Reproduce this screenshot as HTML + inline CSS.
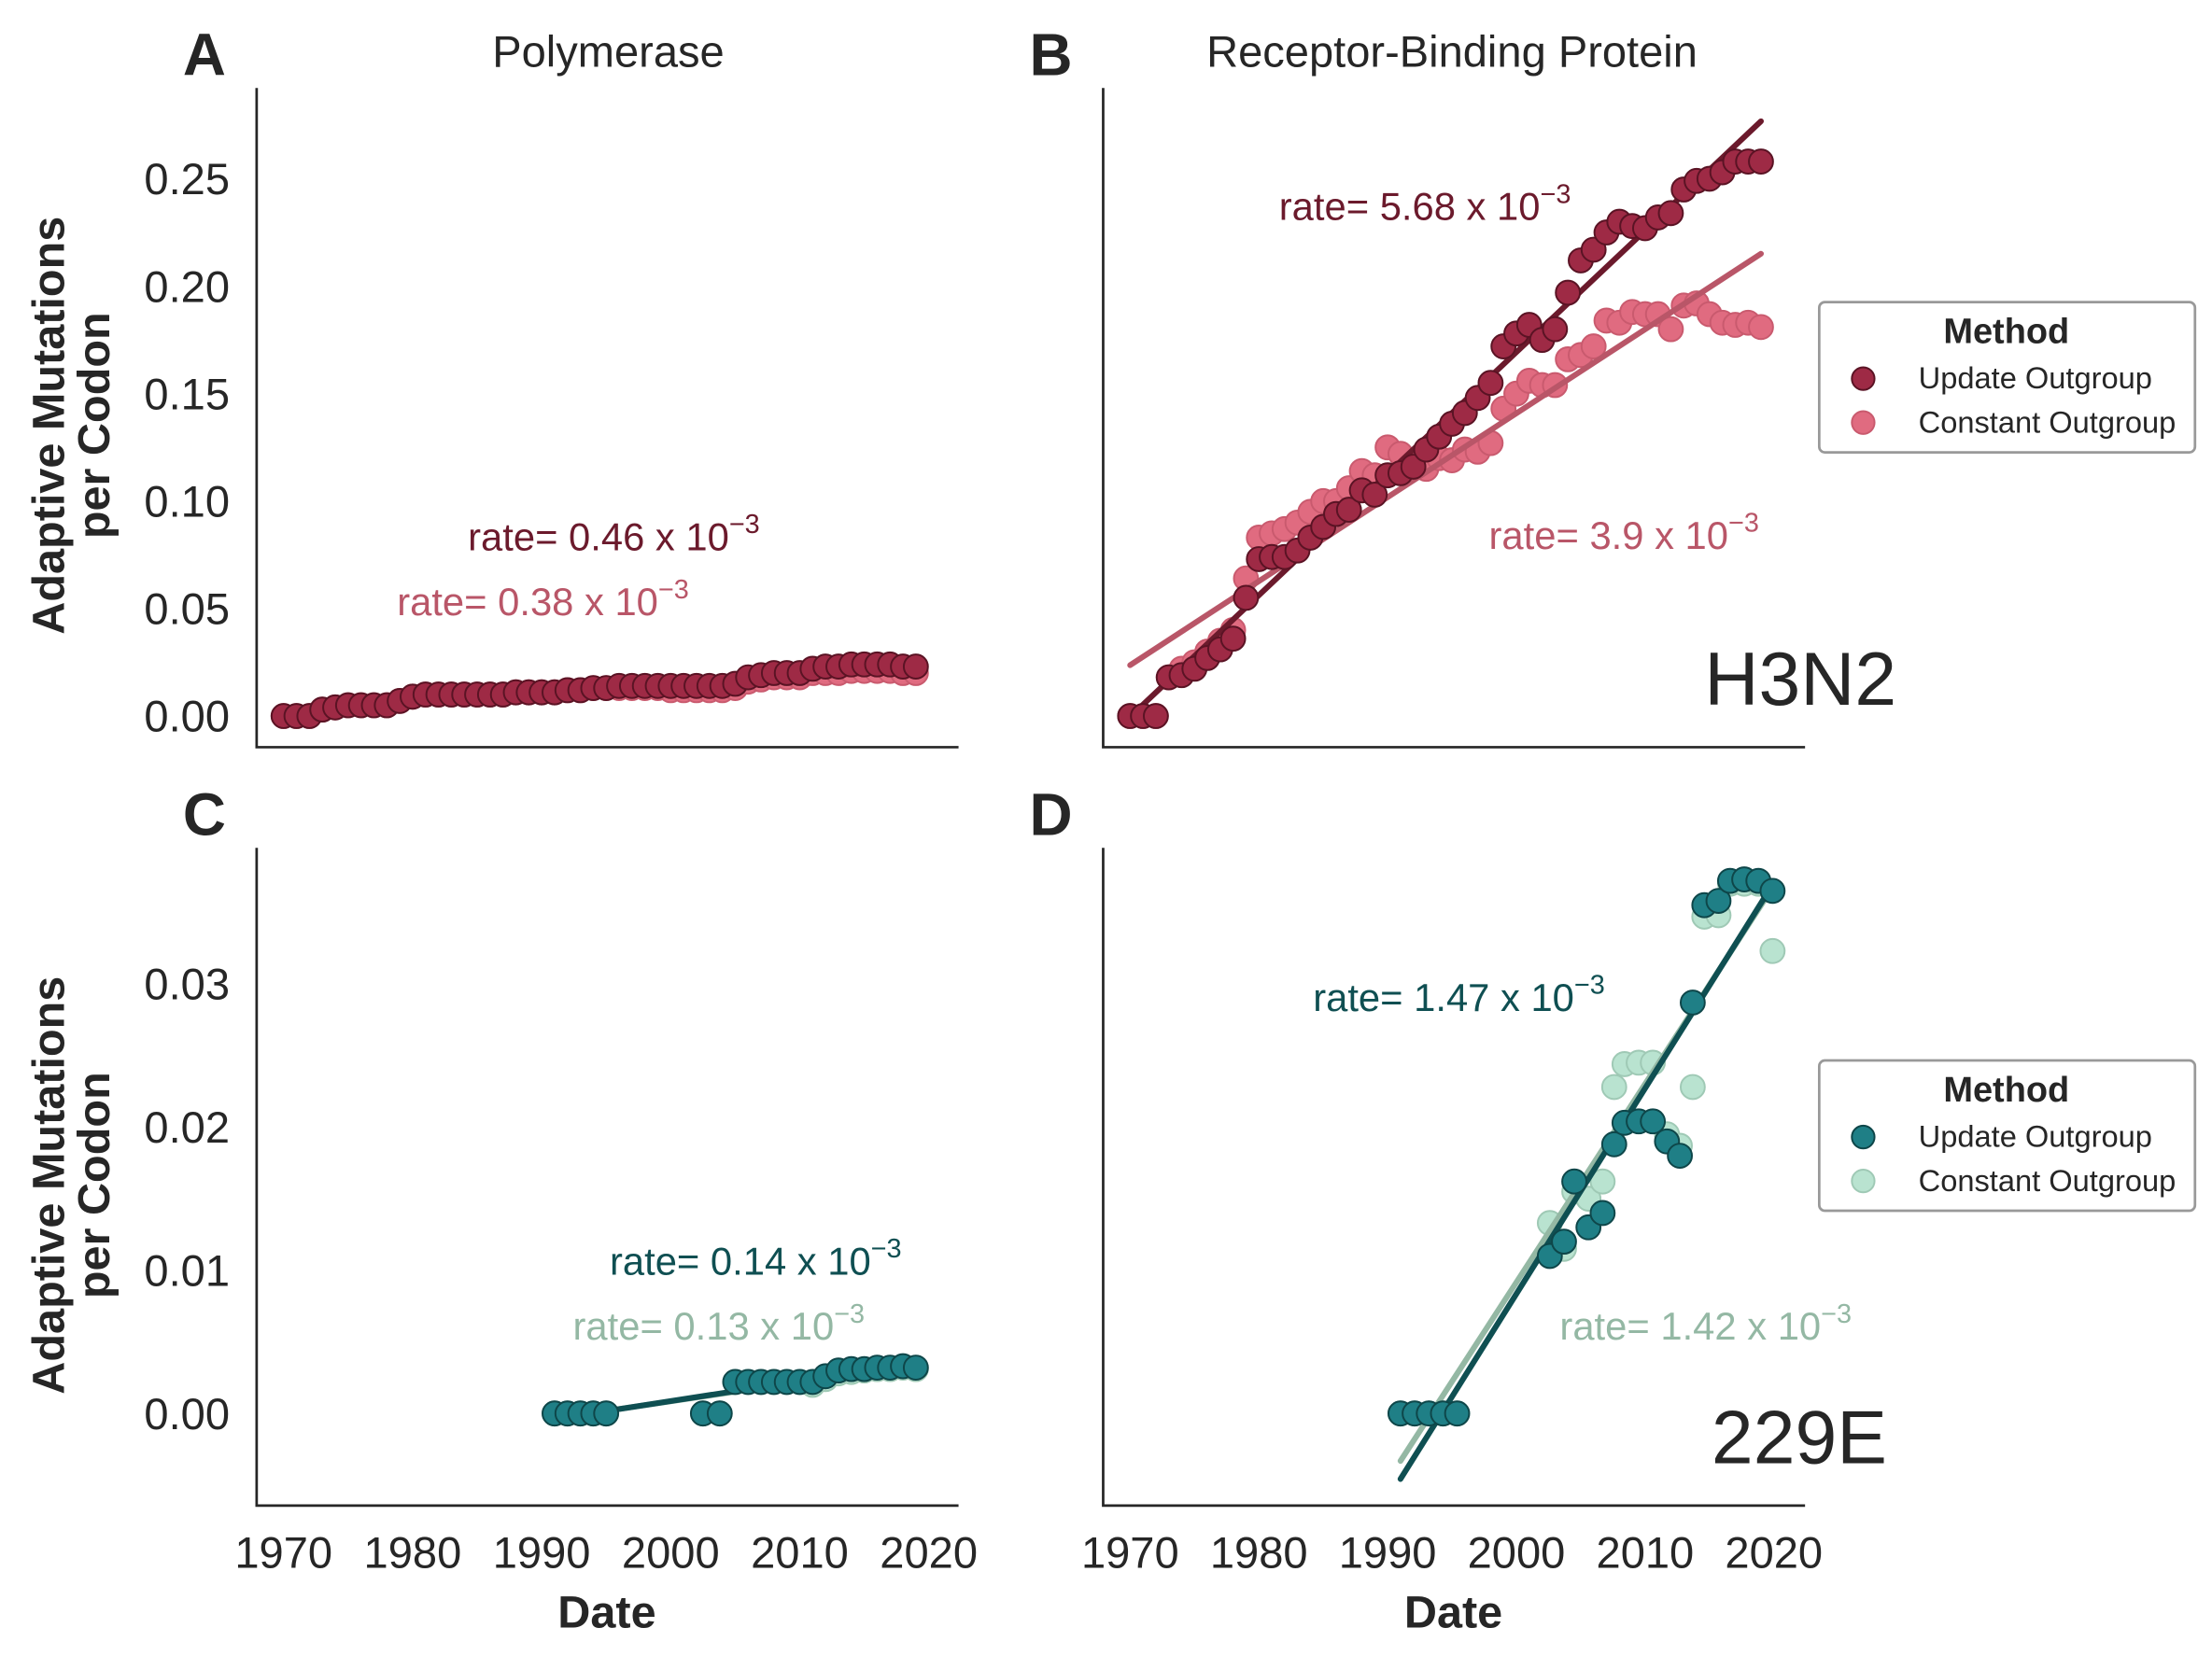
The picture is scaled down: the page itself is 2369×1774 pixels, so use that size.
<!DOCTYPE html>
<html><head><meta charset="utf-8"><style>
html,body{margin:0;padding:0;background:#fff}
svg{display:block;font-family:"Liberation Sans",Arial,sans-serif}
</style></head><body>
<svg id="fig" width="2369" height="1774" viewBox="0 0 1560 1168" xmlns="http://www.w3.org/2000/svg">
<rect width="1560" height="1168" fill="#fff"/>
<g id="layer"></g>
</svg>
<script>
// ---------- data ----------
const years50 = [];
for (let y = 1970; y <= 2019; y++) years50.push(y);
const h3PolUpdate = [0,0,0,0.003,0.004,0.005,0.005,0.005,0.005,0.007,0.009,0.01,0.01,0.01,0.01,0.01,0.01,0.01,0.011,0.011,0.011,0.011,0.012,0.012,0.013,0.013,0.014,0.014,0.014,0.014,0.014,0.014,0.014,0.014,0.014,0.015,0.018,0.019,0.02,0.02,0.02,0.022,0.023,0.023,0.024,0.024,0.024,0.024,0.023,0.023];
const h3PolConst  = [0,0,0,0.003,0.004,0.005,0.005,0.005,0.005,0.007,0.009,0.01,0.01,0.01,0.01,0.01,0.01,0.01,0.011,0.011,0.011,0.011,0.012,0.012,0.013,0.013,0.013,0.013,0.013,0.013,0.012,0.012,0.012,0.012,0.012,0.013,0.016,0.017,0.018,0.018,0.018,0.02,0.02,0.02,0.021,0.021,0.021,0.021,0.02,0.02];
const h3RbpUpdate = [0,0,0,0.018,0.019,0.022,0.027,0.031,0.036,0.055,0.073,0.074,0.074,0.077,0.083,0.088,0.094,0.096,0.105,0.103,0.112,0.113,0.116,0.124,0.130,0.136,0.141,0.148,0.155,0.172,0.178,0.182,0.175,0.180,0.197,0.212,0.217,0.225,0.230,0.228,0.227,0.232,0.234,0.245,0.249,0.250,0.253,0.258,0.258,0.258];
const h3RbpConst  = [0,0,0,0.018,0.022,0.025,0.030,0.035,0.040,0.064,0.083,0.085,0.087,0.090,0.095,0.100,0.100,0.106,0.114,0.112,0.125,0.122,0.117,0.115,0.120,0.119,0.124,0.123,0.127,0.143,0.150,0.156,0.154,0.154,0.166,0.168,0.172,0.184,0.183,0.188,0.187,0.187,0.180,0.191,0.192,0.187,0.183,0.182,0.183,0.181];
const e229PolYears = [1991,1992,1993,1994,1995,2002.5,2003.8,2005,2006,2007,2008,2009,2010,2011,2012,2013,2014,2015,2016,2017,2018,2019];
const e229PolUpdate = [0,0,0,0,0,0,0,0.0022,0.0022,0.0022,0.0022,0.0022,0.0022,0.0022,0.0026,0.003,0.0031,0.0031,0.0032,0.0032,0.0033,0.0032];
const e229PolConst  = [0,0,0,0,0,0,0,0.0022,0.0022,0.0022,0.0022,0.0022,0.0022,0.002,0.0024,0.0028,0.0029,0.003,0.0031,0.0031,0.0032,0.0031];
const e229RbpYears = [1991,1992.1,1993.2,1994.3,1995.4,2002.6,2003.7,2004.5,2005.6,2006.7,2007.6,2008.4,2009.5,2010.6,2011.7,2012.7,2013.7,2014.6,2015.7,2016.6,2017.7,2018.8,2019.9];
const e229RbpUpdate = [0,0,0,0,0,0.011,0.012,0.0162,0.013,0.014,0.0188,0.0203,0.0204,0.0204,0.019,0.018,0.0287,0.0355,0.0358,0.0372,0.0373,0.0372,0.0365];
const e229RbpConst  = [0,0,0,0,0,0.0133,0.0115,0.0155,0.015,0.0162,0.0228,0.0244,0.0245,0.0245,0.0195,0.0187,0.0228,0.0347,0.0348,0.037,0.037,0.037,0.0323];
const xTicks = [1970,1980,1990,2000,2010,2020];
const yTicksTop = [0,0.05,0.10,0.15,0.20,0.25];
const yTicksBot = [0,0.01,0.02,0.03];

// ---------- helpers ----------
const NS = "http://www.w3.org/2000/svg";
const layer = document.getElementById('layer');
function mk(tag, attrs, parent) {
  const e = document.createElementNS(NS, tag);
  for (const k in attrs) e.setAttribute(k, attrs[k]);
  (parent || layer).appendChild(e);
  return e;
}
function fit(xs, ys) {
  const n = xs.length; let mx = 0, my = 0;
  for (let i = 0; i < n; i++) { mx += xs[i]; my += ys[i]; }
  mx /= n; my /= n;
  let sxy = 0, sxx = 0;
  for (let i = 0; i < n; i++) { sxy += (xs[i]-mx)*(ys[i]-my); sxx += (xs[i]-mx)**2; }
  const b = sxy / sxx; return { b, a: my - b*mx };
}

const PAL = {
  h3: { uf:'#9e2a45', ue:'#5a1324', ul:'#6b1a2c', cf:'#e06b80', ce:'#c95a6e', cl:'#b95668' },
  e:  { uf:'#1f7f86', ue:'#0e4649', ul:'#0f4f52', cf:'#b9e3d0', ce:'#9fc9b5', cl:'#94b8a4' }
};

function panel(o) {
  const g = mk('g', {});
  
  
  const X = v => o.x0 + (v - 1970) * o.xs;
  const Y = v => o.y0 - v * o.ys;
  const ax = mk('path', { d:`M${o.left},${o.top}V${o.bottom}H${o.right}`, fill:'none', stroke:'#262626', 'stroke-width':1.8 }, g);
  
  
  if (o.yTicks) {
    o.yTicks.forEach(t => {
      const tx = mk('text', { x: o.left - 19, y: Y(t) + 11, 'text-anchor':'end', 'font-size':31, fill:'#262626' }, g);
      tx.textContent = t.toFixed(2);
      
      
    });
  }
  if (o.xLabels) {
    xTicks.forEach(t => {
      const tx = mk('text', { x: X(t), y: 1106, 'text-anchor':'middle', 'font-size':31, fill:'#262626' }, g);
      tx.textContent = t;
      
      
    });
  }
  const p = PAL[o.pal];
  const r = 8.5;
  function dots(ys, fill, edge, nm) {
    ys.forEach((v, i) => {
      const c = mk('circle', { cx: X(o.years[i]), cy: Y(v), r: r, fill: fill, stroke: edge, 'stroke-width': 1.3 }, g);
      
      
    });
  }
  function line(ys, col, nm) {
    const f = fit(o.years, ys);
    const x1 = o.years[0], x2 = o.years[o.years.length - 1];
    const l = mk('line', { x1: X(x1), y1: Y(f.a + f.b*x1), x2: X(x2), y2: Y(f.a + f.b*x2), stroke: col, 'stroke-width': 4, 'stroke-linecap':'round' }, g);
    
    
  }
  dots(o.c, p.cf, p.ce, 'constant-outgroup-point');
  line(o.c, p.cl, 'constant-outgroup-fit-line');
  line(o.u, p.ul, 'update-outgroup-fit-line');
  dots(o.u, p.uf, p.ue, 'update-outgroup-point');
  o.ann.forEach(a => {
    const t = mk('text', { x: a.x, y: a.y, 'font-size':27.5, fill: a.col }, g);
    t.innerHTML = `rate= ${a.v} x 10<tspan dy="-12" font-size="19">−3</tspan>`;
    
    
  });
  const L = mk('text', { x: o.left - 52, y: o.top - 9, 'font-size':42, 'font-weight':'bold', fill:'#262626' }, g);
  L.textContent = o.letter;
  
  
}

panel({ name:'panel-a-polymerase-h3n2', letter:'A', left:181, right:676, top:62, bottom:527, x0:200, xs:9.1, y0:505, ys:1516,
  years: years50, u: h3PolUpdate, c: h3PolConst, pal:'h3', yTicks: yTicksTop,
  ann:[{x:330,y:388,v:'0.46',col:'#6b1a2c',nm:'update-rate-annotation'},{x:280,y:434,v:'0.38',col:'#b95668',nm:'constant-rate-annotation'}] });
panel({ name:'panel-b-rbp-h3n2', letter:'B', left:778, right:1273, top:62, bottom:527, x0:797, xs:9.08, y0:505, ys:1516,
  years: years50, u: h3RbpUpdate, c: h3RbpConst, pal:'h3',
  ann:[{x:902,y:155,v:'5.68',col:'#6b1a2c',nm:'update-rate-annotation'},{x:1050,y:387,v:'3.9',col:'#b95668',nm:'constant-rate-annotation'}] });
panel({ name:'panel-c-polymerase-229e', letter:'C', left:181, right:676, top:598, bottom:1062, x0:200, xs:9.1, y0:997, ys:10100,
  years: e229PolYears, u: e229PolUpdate, c: e229PolConst, pal:'e', yTicks: yTicksBot, xLabels:true,
  ann:[{x:430,y:899,v:'0.14',col:'#0f4f52',nm:'update-rate-annotation'},{x:404,y:945,v:'0.13',col:'#94b8a4',nm:'constant-rate-annotation'}] });
panel({ name:'panel-d-rbp-229e', letter:'D', left:778, right:1273, top:598, bottom:1062, x0:797, xs:9.08, y0:997, ys:10100,
  years: e229RbpYears, u: e229RbpUpdate, c: e229RbpConst, pal:'e', xLabels:true,
  ann:[{x:926,y:713,v:'1.47',col:'#0f4f52',nm:'update-rate-annotation'},{x:1100,y:945,v:'1.42',col:'#94b8a4',nm:'constant-rate-annotation'}] });

function txt(x, y, s, attrs, nm) {
  const t = mk('text', Object.assign({ x, y, fill:'#262626' }, attrs));
  t.textContent = s;
  
  
  return t;
}
txt(429, 47, 'Polymerase', {'font-size':31, 'text-anchor':'middle'}, 'column-title-polymerase');
txt(1024, 47, 'Receptor-Binding Protein', {'font-size':31, 'text-anchor':'middle'}, 'column-title-receptor-binding');
txt(1202, 497, 'H3N2', {'font-size':53}, 'virus-label-h3n2');
txt(1207, 1032, '229E', {'font-size':53}, 'virus-label-229e');
txt(428, 1148, 'Date', {'font-size':32, 'font-weight':'bold', 'text-anchor':'middle'}, 'x-axis-title');
txt(1025, 1148, 'Date', {'font-size':32, 'font-weight':'bold', 'text-anchor':'middle'}, 'x-axis-title');
[300, 836].forEach(cy => {
  const t = mk('text', { transform:`translate(45,${cy}) rotate(-90)`, 'text-anchor':'middle', 'font-size':32, 'font-weight':'bold', fill:'#262626' });
  t.innerHTML = `<tspan x="0" dy="0">Adaptive Mutations</tspan><tspan x="0" dy="32">per Codon</tspan>`;
  
  
});

function legend(top, p, nm) {
  const g = mk('g', {});
  
  
  const b = mk('rect', { x:1283, y:top, width:265, height:106, rx:4, fill:'#fff', stroke:'#999', 'stroke-width':1.8 }, g);
  
  
  const t = mk('text', { x:1415, y:top+29, 'text-anchor':'middle', 'font-size':25, 'font-weight':'bold', fill:'#262626' }, g);
  t.textContent = 'Method';
  
  
  [['Update Outgroup', p.uf, p.ue, 54], ['Constant Outgroup', p.cf, p.ce, 85]].forEach(e => {
    const c = mk('circle', { cx:1314, cy:top+e[3], r:8, fill:e[1], stroke:e[2], 'stroke-width':1.3 }, g);
    
    
    const s = mk('text', { x:1353, y:top+e[3]+7, 'font-size':21.5, fill:'#262626' }, g);
    s.textContent = e[0];
    
    
  });
}
legend(213, PAL.h3, 'legend-h3n2');
legend(748, PAL.e, 'legend-229e');
</script>
</body></html>
